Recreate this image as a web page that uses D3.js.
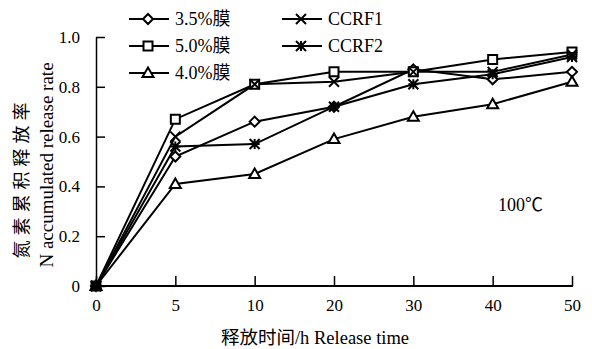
<!DOCTYPE html>
<html><head><meta charset="utf-8">
<script src="https://cdn.jsdelivr.net/npm/d3@7/dist/d3.min.js"></script>
<style>
body{margin:0;background:#fff;}
svg text{font-family:"Liberation Serif","Times New Roman",serif,"Noto Sans CJK SC" !important;fill:#000;}
</style></head>
<body>
<svg id="c" width="592" height="349"></svg>
<script>
const categories = ["0","5","10","20","30","40","50"];
const yTicks = [0,0.2,0.4,0.6,0.8,1.0];
const yTickLabels = ["0","0.2","0.4","0.6","0.8","1.0"];
const seriesNames = ["3.5%膜","5.0%膜","4.0%膜","CCRF1","CCRF2"];
const s35 = [0,0.52,0.66,0.72,0.87,0.83,0.86];
const s50 = [0,0.67,0.81,0.86,0.86,0.91,0.94];
const s40 = [0,0.41,0.45,0.59,0.68,0.73,0.82];
const ccrf1 = [0,0.60,0.81,0.82,0.86,0.86,0.93];
const ccrf2 = [0,0.56,0.57,0.72,0.81,0.85,0.92];
const markers = ["diamond","square","triangle","cross","asterisk"];
const seriesData = [s35,s50,s40,ccrf1,ccrf2];

const svg = d3.select("#c");
const x = d3.scalePoint().domain(categories).range([96,572]);
const y = d3.scaleLinear().domain([0,1]).range([286,37]);

function markerPath(type){
  const p = d3.path();
  if(type==="diamond"){const r=5;p.moveTo(0,-r);p.lineTo(r,0);p.lineTo(0,r);p.lineTo(-r,0);p.closePath();}
  else if(type==="square"){const r=4.5;p.rect(-r,-r,2*r,2*r);}
  else if(type==="triangle"){p.moveTo(0,-5.5);p.lineTo(5.5,4);p.lineTo(-5.5,4);p.closePath();}
  else if(type==="cross"){const r=5;p.moveTo(-r,-r);p.lineTo(r,r);p.moveTo(r,-r);p.lineTo(-r,r);}
  else if(type==="asterisk"){const r=5;p.moveTo(-r,-r);p.lineTo(r,r);p.moveTo(r,-r);p.lineTo(-r,r);p.moveTo(-r,0);p.lineTo(r,0);p.moveTo(0,-r);p.lineTo(0,r);}
  return p.toString();
}

// axes
const xAxis = d3.axisBottom(x).tickSizeInner(-10).tickSizeOuter(0).tickPadding(20);
const gx = svg.append("g").attr("transform","translate(0,286)").call(xAxis);
gx.attr("font-family",null);
gx.select(".domain").attr("d","M96,0H573").attr("stroke","#000").attr("stroke-width",2);
gx.selectAll(".tick line").attr("stroke","#000").attr("stroke-width",1.5);
gx.selectAll(".tick text").attr("font-size",17).attr("dy","0.3em");

const yAxis = d3.axisLeft(y).tickValues(yTicks).tickFormat((d,i)=>yTickLabels[i]).tickSizeInner(-9).tickSizeOuter(0).tickPadding(16);
const gy = svg.append("g").attr("transform","translate(96,0)").call(yAxis);
gy.attr("font-family",null);
gy.select(".domain").attr("stroke","#000").attr("stroke-width",1.5);
gy.selectAll(".tick line").attr("stroke","#000").attr("stroke-width",1.5);
gy.selectAll(".tick text").attr("font-size",17);

// lines
const line = d3.line().x((d,i)=>x(categories[i])).y(d=>y(d));
seriesData.forEach((s,k)=>{
  svg.append("path").datum(s).attr("d",line).attr("fill","none").attr("stroke","#000").attr("stroke-width",2);
});
seriesData.forEach((s,k)=>{
  svg.append("g").selectAll("path").data(s).enter().append("path")
    .attr("transform",(d,i)=>`translate(${x(categories[i])},${y(d)})`)
    .attr("d",markerPath(markers[k]))
    .attr("fill","#fff").attr("stroke","#000").attr("stroke-width",2);
});
// origin overlap blob
svg.append("rect").attr("x",x("0")-5).attr("y",y(0)-5).attr("width",10).attr("height",10).attr("fill","#000");

// legend
const legendPos = [[129,19],[129,46],[129,73],[282,19],[282,46]];
seriesNames.forEach((n,k)=>{
  const [lx,ly] = legendPos[k];
  const g = svg.append("g").attr("transform",`translate(${lx},${ly})`);
  g.append("line").attr("x1",0).attr("x2",40).attr("y1",0).attr("y2",0).attr("stroke","#000").attr("stroke-width",2);
  g.append("path").attr("transform","translate(19,0)").attr("d",markerPath(markers[k])).attr("fill","#fff").attr("stroke","#000").attr("stroke-width",2);
  g.append("text").attr("x",46).attr("y",0).attr("dy","0.35em").attr("font-size",18).text(n);
});

// annotation
svg.append("text").attr("x",498).attr("y",205).attr("dy","0.35em").attr("font-size",18).text("100℃");

// axis titles
svg.append("text").attr("x",315).attr("y",344).attr("text-anchor","middle").attr("font-size",18.5).text("释放时间/h Release time");
svg.append("text").attr("transform","translate(22,178) rotate(-90)").attr("text-anchor","middle").attr("dy","0.35em").attr("font-size",18).style("letter-spacing","5px").text("氮素累积释放率");
svg.append("text").attr("transform","translate(46,165) rotate(-90)").attr("text-anchor","middle").attr("dy","0.35em").attr("font-size",19).text("N accumulated release rate");
</script>
</body></html>
